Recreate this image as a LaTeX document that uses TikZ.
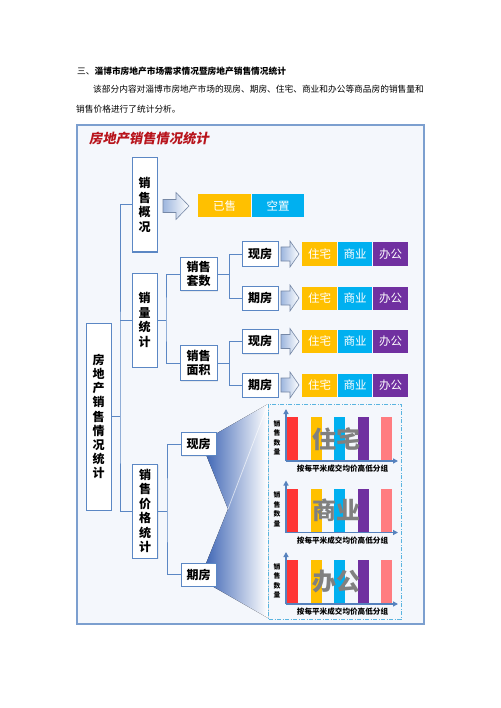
\documentclass[tikz,border=0pt]{standalone}
\usepackage{fontspec}
\setmainfont{Noto Sans CJK SC}
\newfontfamily\slantcjk{Noto Sans CJK SC}[FakeSlant=0.18]
\usetikzlibrary{arrows.meta,shadows}
\definecolor{linkblue}{HTML}{5B87C4}
\definecolor{framebl}{HTML}{7C9FCF}
\definecolor{framefill}{HTML}{F4F7FC}
\definecolor{titlered}{HTML}{B8141C}
\definecolor{amber}{HTML}{FFC000}
\definecolor{skyb}{HTML}{00B0F0}
\definecolor{bxpurple}{HTML}{7030A0}
\definecolor{barred}{HTML}{FF3535}
\definecolor{barpink}{HTML}{FF7C80}
\definecolor{fanblue}{HTML}{3F66B5}
\definecolor{dashbl}{HTML}{5AB4E0}
\definecolor{axisbl}{HTML}{5682BE}
\definecolor{arrowbl}{HTML}{9DB6DE}
\tikzset{
  box/.style={draw=linkblue, line width=1pt, fill=white, align=center, inner sep=0pt,
    font=\bfseries\fontsize{12}{14.5}\selectfont,
    drop shadow={opacity=0.12, shadow xshift=1pt, shadow yshift=-1pt}},
  link/.style={draw=linkblue, line width=1pt},
  tag/.style={minimum height=23pt, inner sep=0pt, text=white, font=\fontsize{11.5}{12}\selectfont},
  axis/.style={draw=axisbl, line width=1.3pt, -{Triangle[length=5pt,width=5pt]}},
  ylab/.style={align=center, inner sep=0pt, font=\bfseries\fontsize{6.8}{9.5}\selectfont},
  xlab/.style={inner sep=0pt, font=\bfseries\fontsize{7.6}{8}\selectfont},
  bigword/.style={inner sep=0pt, text=black!50, font=\bfseries\fontsize{24}{24}\selectfont},
  pics/barrow/.style n args={4}{code={
    \path[draw=arrowbl!75!black, line width=0.6pt, left color=arrowbl, right color=white]
      (0,-#2) -- (#4,-#2) -- (#4,-#3) -- (#1,0) -- (#4,#3) -- (#4,#2) -- (0,#2) -- cycle;
  }}
}
\begin{document}
\begin{tikzpicture}[x=1pt, y=-1pt]
  \fill[white] (0,0) rectangle (500,708);
  \useasboundingbox (0,0) rectangle (500,708);

  \node[anchor=west, inner sep=0pt, font=\fontsize{8.7}{10}\selectfont] (head) at (77,71)
    {三、\textbf{淄博市房地产市场需求情况暨房地产销售情况统计}};
  \node[anchor=west, inner sep=0pt, font=\fontsize{8.7}{10}\selectfont] (para1) at (93,89)
    {该部分内容对淄博市房地产市场的现房、期房、住宅、商业和办公等商品房的销售量和};
  \node[anchor=west, inner sep=0pt, font=\fontsize{8.7}{10}\selectfont] (para2) at (76,109)
    {销售价格进行了统计分析。};

  \draw[framebl, line width=1.2pt, fill=framefill] (77,125) rectangle (424,624);
  \node[anchor=west, inner sep=0pt, text=titlered, font=\slantcjk\bfseries\fontsize{13.3}{14}\selectfont] (ftitle) at (89,138) {房地产销售情况统计};

  \fill[left color=fanblue, right color=white] (205,440) -- (268,404) -- (268,618) -- (205,582)
    -- (205,566) -- (228,509) -- (205,452) -- cycle;
  \draw[white, opacity=0.6, line width=0.8pt] (268,404) -- (228,509);
  \draw[dashbl, line width=1pt, dash pattern=on 4pt off 1.5pt on 1pt off 1.5pt] (268,404) rectangle (401,619);

  \foreach \nm [count=\i from 0] in {住宅,商业,办公} {
    \pgfmathsetmacro\by{461+71.5*\i}
    \foreach \c [count=\j from 0] in {barred,amber,skyb,bxpurple,barpink}
      \fill[\c] (287+23.5*\j,\by-44) rectangle ++(11,44);
    \draw[axis] (286,\by) -- (286,\by-52);
    \draw[axis] (286,\by) -- (398,\by);
    \node[ylab] (yl\i) at (277,\by-23) {销\\售\\数\\量};
    \node[bigword] (bw\i) at (336,\by-22) {\nm};
    \node[xlab] (xlb\i) at (342.5,\by+8) {按每平米成交均价高低分组};
  }

  \node[box, minimum width=25pt, minimum height=187pt, font=\bfseries\fontsize{12}{14.2}\selectfont] (root) at (98.5,416.5) {房\\地\\产\\销\\售\\情\\况\\统\\计};
  \node[box, minimum width=25pt, minimum height=94pt] (gk) at (144.5,205) {销\\售\\概\\况};
  \node[box, minimum width=25pt, minimum height=94pt] (xl) at (144.5,320) {销\\量\\统\\计};
  \node[box, minimum width=25pt, minimum height=94pt] (jg) at (145,511) {销\\售\\价\\格\\统\\计};
  \node[box, minimum width=37pt, minimum height=33pt] (ts) at (198.5,274) {销售\\套数};
  \node[box, minimum width=37pt, minimum height=35pt] (mj) at (198.5,363) {销售\\面积};
  \node[box, minimum width=36pt, minimum height=24pt] (tsx) at (260,254) {现房};
  \node[box, minimum width=36pt, minimum height=24pt] (tsq) at (260,298) {期房};
  \node[box, minimum width=36pt, minimum height=24pt] (mjx) at (260,341.5) {现房};
  \node[box, minimum width=36pt, minimum height=24pt] (mjq) at (260,385) {期房};
  \node[box, minimum width=35pt, minimum height=23pt] (jgx) at (198.5,444) {现房};
  \node[box, minimum width=35pt, minimum height=23pt] (jgq) at (198.5,574.5) {期房};

  \pic at (163,206) {barrow={26}{6.5}{13.5}{13}};
  \node[tag, fill=amber, minimum width=53pt] (ys) at (224.5,206) {已售};
  \node[tag, fill=skyb, minimum width=52pt] (kz) at (278,206) {空置};

  \foreach \r/\y in {tsx/254, tsq/298, mjx/341.5, mjq/385} {
    \pic at (281,\y) {barrow={18}{7}{13}{9}};
    \node[tag, fill=amber, minimum width=35pt] (\r-zz) at (319.5,\y) {住宅};
    \node[tag, fill=skyb, minimum width=34pt] (\r-sy) at (355,\y) {商业};
    \node[tag, fill=bxpurple, minimum width=35pt] (\r-bg) at (390.5,\y) {办公};
  }

  \draw[link] (root.east) -- (120,416.5) coordinate (rj);
  \draw[link] (gk.west) -| (rj) |- (jg.west);
  \draw[link] (rj |- xl.west) -- (xl.west);
  \draw[link] (xl.east) -- ++(8.5,0) coordinate (xj);
  \draw[link] (ts.west) -| (xj) |- (mj.west);
  \draw[link] (ts.east) -- ++(12,0) coordinate (tj);
  \draw[link] (tsx.west) -| (tj) |- (tsq.west);
  \draw[link] (mj.east) -- ++(12,0) coordinate (mjj);
  \draw[link] (mjx.west) -| (mjj) |- (mjq.west);
  \draw[link] (jg.east) -- ++(9,0) coordinate (jj);
  \draw[link] (jgx.west) -| (jj) |- (jgq.west);
\end{tikzpicture}
\end{document}
